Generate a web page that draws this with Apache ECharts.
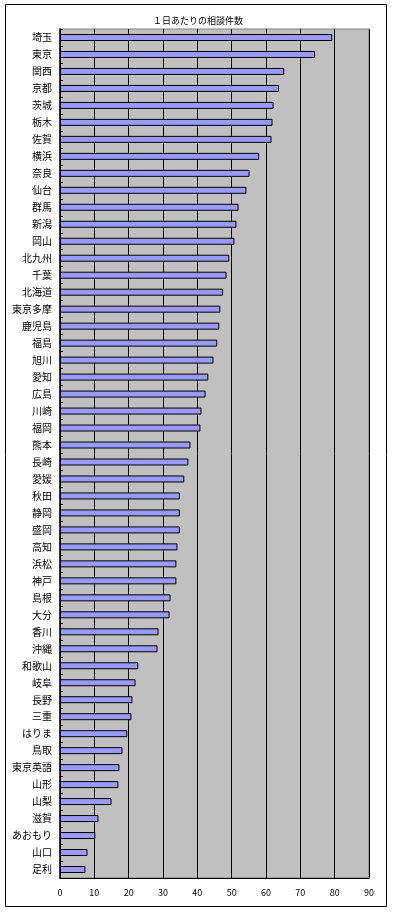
<!DOCTYPE html>
<html>
<head>
<meta charset="utf-8">
<script src="https://cdn.jsdelivr.net/npm/echarts@6/dist/echarts.min.js"></script>
<style>
  html, body { margin: 0; padding: 0; background: #fff; }
  #chart { width: 406px; height: 917px; }
</style>
</head>
<body>
<div id="chart"></div>
<script>
// categories, top to bottom
var centers = ['埼玉', '東京', '関西', '京都', '茨城', '栃木', '佐賀', '横浜', '奈良', '仙台',
    '群馬', '新潟', '岡山', '北九州', '千葉', '北海道', '東京多摩', '鹿児島', '福島', '旭川',
    '愛知', '広島', '川崎', '福岡', '熊本', '長崎', '愛媛', '秋田', '静岡', '盛岡',
    '高知', '浜松', '神戸', '島根', '大分', '香川', '沖縄', '和歌山', '岐阜', '長野',
    '三重', 'はりま', '鳥取', '東京英語', '山形', '山梨', '滋賀', 'あおもり', '山口', '足利']

// 1日あたりの相談件数
var perDay = [79.3, 74.3, 65.3, 63.8, 62.2, 61.9, 61.6, 58.0, 55.2, 54.3,
    52.0, 51.4, 50.8, 49.3, 48.5, 47.5, 46.7, 46.4, 45.8, 44.7,
    43.2, 42.4, 41.2, 40.9, 38.0, 37.4, 36.2, 34.9, 34.9, 34.9,
    34.2, 33.9, 33.9, 32.2, 31.9, 28.7, 28.4, 22.8, 22.0, 21.1,
    20.8, 19.6, 18.2, 17.3, 17.0, 15.0, 11.2, 10.3, 8.0, 7.4]

var xTicks = [0, 10, 20, 30, 40, 50, 60, 70, 80, 90]

var font = '"Noto Sans CJK JP", "Noto Sans", sans-serif'

var myChart = echarts.init(document.getElementById('chart'))
var option = {
    animation: false,
    backgroundColor: '#fff',
    title: {
        text: '１日あたりの相談件数',
        left: 193,
        top: 11,
        textAlign: 'center',
        textStyle: { fontFamily: font, fontSize: 9, fontWeight: 'normal', color: '#000' }
    },
    graphic: [{
        type: 'rect',
        shape: { x: 5.5, y: 4.5, width: 381, height: 902 },
        style: { fill: 'none', stroke: '#000', lineWidth: 1 },
        z: -1
    }],
    grid: {
        left: 60,
        top: 29,
        right: 37,
        bottom: 39,
        show: true,
        backgroundColor: '#c0c0c0',
        borderColor: '#808080',
        borderWidth: 1
    },
    xAxis: {
        type: 'value',
        min: xTicks[0],
        max: xTicks[xTicks.length - 1],
        interval: 10,
        axisLine: { show: true, lineStyle: { color: '#000', width: 1 } },
        axisTick: { show: false },
        splitLine: { show: true, lineStyle: { color: '#000', width: 1 } },
        axisLabel: { fontFamily: font, fontSize: 9, color: '#000', margin: 10 }
    },
    yAxis: {
        type: 'category',
        data: centers,
        inverse: true,
        axisLine: { show: true, lineStyle: { color: '#000', width: 1.5 } },
        axisTick: { show: true, inside: true, length: 3, lineStyle: { color: '#000' } },
        axisLabel: { fontFamily: font, fontSize: 10, color: '#000', margin: 8, interval: 0 },
        splitLine: { show: false }
    },
    series: [{
        name: '相談件数',
        type: 'bar',
        data: perDay,
        barWidth: 7,
        itemStyle: { color: '#9999ff', borderColor: '#000', borderWidth: 1 }
    }]
}
myChart.setOption(option)
</script>
</body>
</html>
